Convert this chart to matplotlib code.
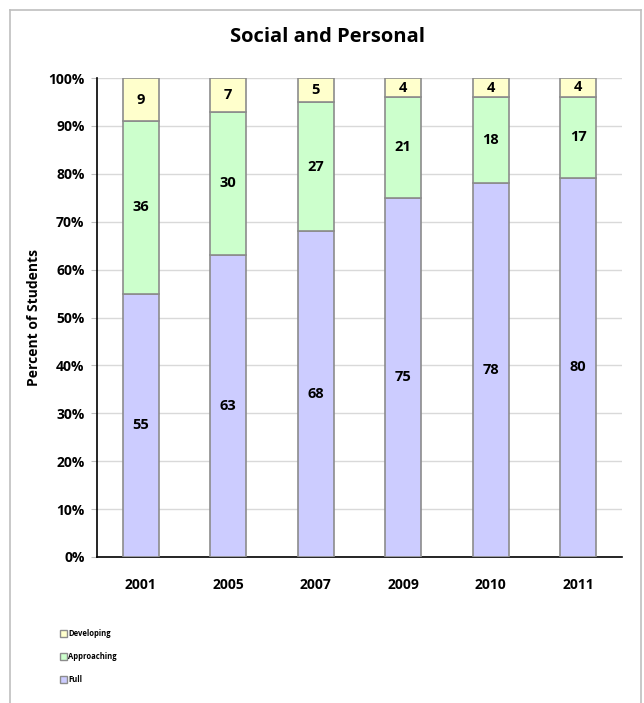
import matplotlib
matplotlib.use("Agg")
import matplotlib.pyplot as plt
from matplotlib.lines import Line2D
from matplotlib.patches import Patch
import numpy as np

years = ["2001", "2005", "2007", "2009", "2010", "2011"]
full = [55, 63, 68, 75, 78, 80]
approaching = [36, 30, 27, 21, 18, 17]
developing = [9, 7, 5, 4, 4, 4]

c_full = "#CCCCFF"
c_app = "#CCFFCC"
c_dev = "#FFFFCC"
edge = "#8C8C8C"

plt.rcParams['font.family'] = ['Open Sans', 'DejaVu Sans']

W, H = 644, 703
fig = plt.figure(figsize=(W/100, H/100), dpi=100)
ax = fig.add_axes([97/W, 1-557/H, (622-97)/W, (557-78)/H])

f = np.array(full, float)
a = np.array(approaching, float)
d = np.array(developing, float)
tot = f + a + d
fn, an, dn = f/tot*100, a/tot*100, d/tot*100
x = np.arange(len(years))
bw = 0.41
ax.bar(x, fn, bw, color=c_full, edgecolor=edge, linewidth=1.2, zorder=3)
ax.bar(x, an, bw, bottom=fn, color=c_app, edgecolor=edge, linewidth=1.2, zorder=3)
ax.bar(x, dn, bw, bottom=fn+an, color=c_dev, edgecolor=edge, linewidth=1.2, zorder=3)

fs = 10
vfs = 10.5
for i in range(len(years)):
    ax.text(x[i], fn[i]/2, str(full[i]), ha='center', va='center', fontsize=vfs, fontweight='bold', zorder=4)
    ax.text(x[i], fn[i]+an[i]/2, str(approaching[i]), ha='center', va='center', fontsize=vfs, fontweight='bold', zorder=4)
    ax.text(x[i], fn[i]+an[i]+dn[i]/2, str(developing[i]), ha='center', va='center', fontsize=vfs, fontweight='bold', zorder=4)

ax.set_xlim(-0.5, len(years)-0.5)
ax.set_ylim(0, 100)
ax.set_yticks(np.arange(0, 101, 10))
ax.set_yticklabels([f"{v}%" for v in range(0, 101, 10)], fontsize=fs, fontweight='bold')
ax.set_xticks(x)
ax.set_xticklabels(years, fontsize=fs, fontweight='bold')
ax.tick_params(axis='x', length=0, pad=15)
ax.tick_params(axis='y', length=4, color='#BFBFBF', pad=5)
ax.grid(axis='y', color='#D9D9D9', linewidth=1, zorder=0)
for s in ['top', 'right']:
    ax.spines[s].set_visible(False)
ax.spines['left'].set_color('black')
ax.spines['bottom'].set_color('black')
ax.spines['left'].set_linewidth(1.2)
ax.spines['bottom'].set_linewidth(1.2)
ax.set_ylabel("Percent of Students", fontsize=fs, fontweight='bold', labelpad=5)

fig.text(327/W, 1-37/H, "Social and Personal", ha='center', va='center', fontsize=14.5, fontweight='bold')

# outer frame
bc = '#BFBFBF'
fig.add_artist(Line2D([10/W, 10/W], [0, 1-10/H], color=bc, lw=1.2))
fig.add_artist(Line2D([10/W, 641/W], [1-10/H, 1-10/H], color=bc, lw=1.2))
fig.add_artist(Line2D([641/W, 641/W], [0, 1-10/H], color=bc, lw=1.2))

# legend
handles = [Patch(facecolor=c_dev, edgecolor=edge, label="Developing"),
           Patch(facecolor=c_app, edgecolor=edge, label="Approaching"),
           Patch(facecolor=c_full, edgecolor=edge, label="Full")]
leg = fig.legend(handles=handles, loc='upper left', bbox_to_anchor=(60/W, 1-629/H),
                 frameon=False, prop={'size': 5.5, 'weight': 'bold'},
                 handlelength=0.9, handleheight=0.9, handletextpad=0.2,
                 labelspacing=1.85, borderaxespad=0, borderpad=0)

fig.savefig("out.png", dpi=100)
